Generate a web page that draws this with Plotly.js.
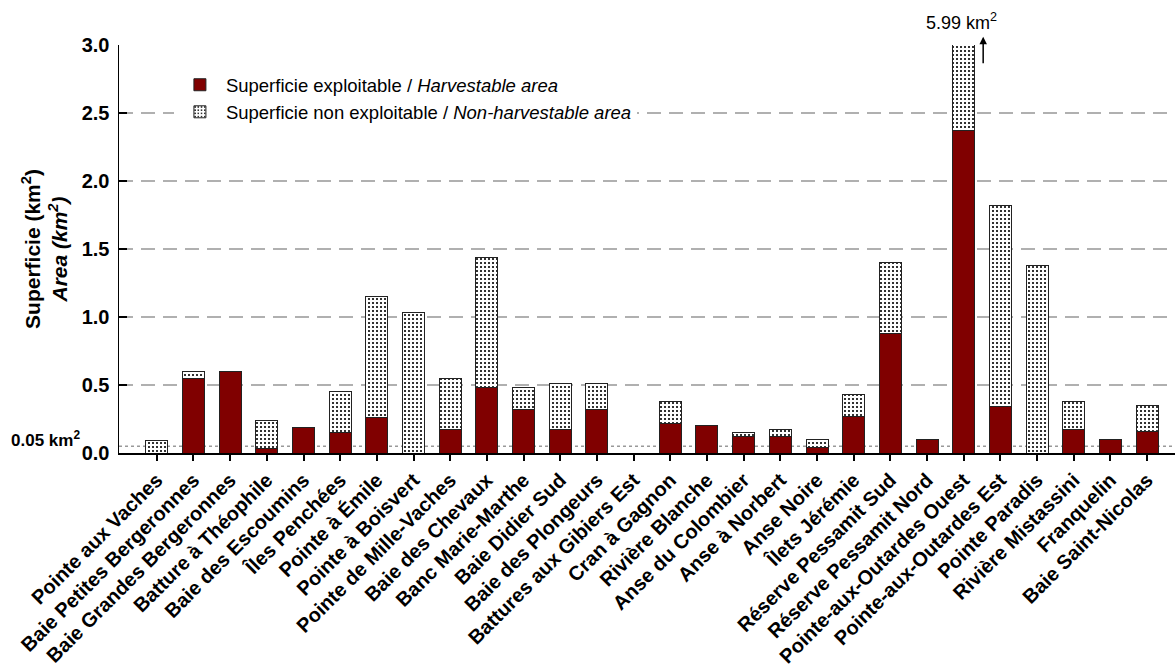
<!DOCTYPE html>
<html>
<head>
<meta charset="utf-8">
<script src="https://cdn.plot.ly/plotly-3.0.1.min.js"></script>
<style>html,body{margin:0;padding:0;background:#fff;}#chart{width:1175px;height:666px;}</style>
</head>
<body>
<div id="chart"></div>
<script>
var categories = ["Pointe aux Vaches","Baie Petites Bergeronnes","Baie Grandes Bergeronnes","Batture à Théophile","Baie des Escoumins","Îles Penchées","Pointe à Émile","Pointe à Boisvert","Pointe de Mille-Vaches","Baie des Chevaux","Banc Marie-Marthe","Baie Didier Sud","Baie des Plongeurs","Battures aux Gibiers Est","Cran à Gagnon","Rivière Blanche","Anse du Colombier","Anse à Norbert","Anse Noire","Îlets Jérémie","Réserve Pessamit Sud","Réserve Pessamit Nord","Pointe-aux-Outardes Ouest","Pointe-aux-Outardes Est","Pointe Paradis","Rivière Mistassini","Franquelin","Baie Saint-Nicolas"];
var harvestable = [0, 0.55, 0.60, 0.03, 0.19, 0.15, 0.26, 0, 0.17, 0.48, 0.32, 0.17, 0.32, 0, 0.22, 0.20, 0.12, 0.12, 0.04, 0.27, 0.88, 0.10, 2.37, 0.34, 0, 0.17, 0.10, 0.16];
var nonHarvestable = [0.095, 0.05, 0, 0.21, 0, 0.30, 0.89, 1.03, 0.375, 0.96, 0.16, 0.34, 0.19, 0, 0.16, 0, 0.03, 0.05, 0.06, 0.16, 0.52, 0, 3.62, 1.48, 1.38, 0.21, 0, 0.19];
var yTicks = [0, 0.5, 1.0, 1.5, 2.0, 2.5, 3.0];
var yTickLabels = ["0.0","0.5","1.0","1.5","2.0","2.5","3.0"];
var thresholdValue = 0.05;
var clippedTotalLabel = "5.99 km<sup>2</sup>";
var clippedIndex = 22;

var FONT = "Liberation Sans, Arial, Helvetica, sans-serif";

var traces = [
  {
    type: "bar", name: "Superficie exploitable / <i>Harvestable area</i>",
    x: categories, y: harvestable, width: 0.6,
    marker: {color: "#800000", line: {color: "#222", width: 1}},
    hoverinfo: "x+y"
  },
  {
    type: "bar", name: "Superficie non exploitable / <i>Non-harvestable area</i>",
    x: categories, y: nonHarvestable, width: 0.6,
    marker: {color: "#ffffff", line: {color: "#222", width: 1},
      pattern: {shape: ".", bgcolor: "#ffffff", fgcolor: "#000000", size: 4, solidity: 0.22}},
    hoverinfo: "x+y"
  }
];

var layout = {
  width: 1175, height: 666,
  margin: {l: 119, r: 0, t: 45, b: 213},
  paper_bgcolor: "#fff", plot_bgcolor: "#fff",
  barmode: "stack",
  font: {family: FONT, color: "#000"},
  showlegend: true,
  legend: {x: 0.052, y: 0.948, xanchor: "left", yanchor: "top", bgcolor: "#fff",
    traceorder: "normal", itemwidth: 42, font: {size: 18.5, family: FONT}, tracegroupgap: 0},
  xaxis: {
    type: "category", range: [-1.03, 27.76],
    tickangle: -45, tickfont: {size: 20, family: FONT, weight: "bold"},
    ticks: "outside", ticklen: 6, tickwidth: 2, tickcolor: "#000",
    showline: true, linecolor: "#000", linewidth: 1.5,
    showgrid: false, zeroline: false, fixedrange: true
  },
  yaxis: {
    range: [0, 3], tickvals: yTicks, ticktext: yTickLabels,
    tickfont: {size: 20, family: FONT, weight: "bold"},
    ticks: "inside", ticklen: 8, tickwidth: 2, tickcolor: "#000",
    showline: true, linecolor: "#000", linewidth: 1.5,
    showgrid: true, gridcolor: "#b0b0b0", gridwidth: 1.5, griddash: "14px,8px",
    zeroline: false, ticklabelstandoff: 4,
    title: {text: "<b>Superficie (km<sup>2</sup>)</b><br><b><i>Area (km<sup>2</sup>)</i></b>",
      font: {size: 21, family: FONT}, standoff: 8}
  },
  shapes: [
    {type: "line", xref: "paper", x0: 0, x1: 1, yref: "y", y0: thresholdValue, y1: thresholdValue,
     line: {color: "#999", width: 1.5, dash: "dot"}, layer: "below"}
  ],
  annotations: [
    {xref: "paper", x: 0, yref: "y", y: thresholdValue, xanchor: "right", yanchor: "middle",
     xshift: -37, yshift: 7, showarrow: false, text: "<b>0.05 km<sup>2</sup></b>",
     font: {size: 17, family: FONT}},
    {xref: "x", x: clippedIndex + 0.53, yref: "paper", y: 1.02, ax: 0, ay: 28,
     showarrow: true, arrowhead: 2, arrowwidth: 1.5, arrowsize: 1, arrowcolor: "#000", text: ""},
    {xref: "x", x: clippedIndex - 0.05, yref: "paper", y: 1.058, xanchor: "center", yanchor: "middle",
     showarrow: false, text: clippedTotalLabel, font: {size: 18, family: FONT}}
  ]
};

Plotly.newPlot("chart", traces, layout, {displayModeBar: false, staticPlot: true});
</script>
</body>
</html>
